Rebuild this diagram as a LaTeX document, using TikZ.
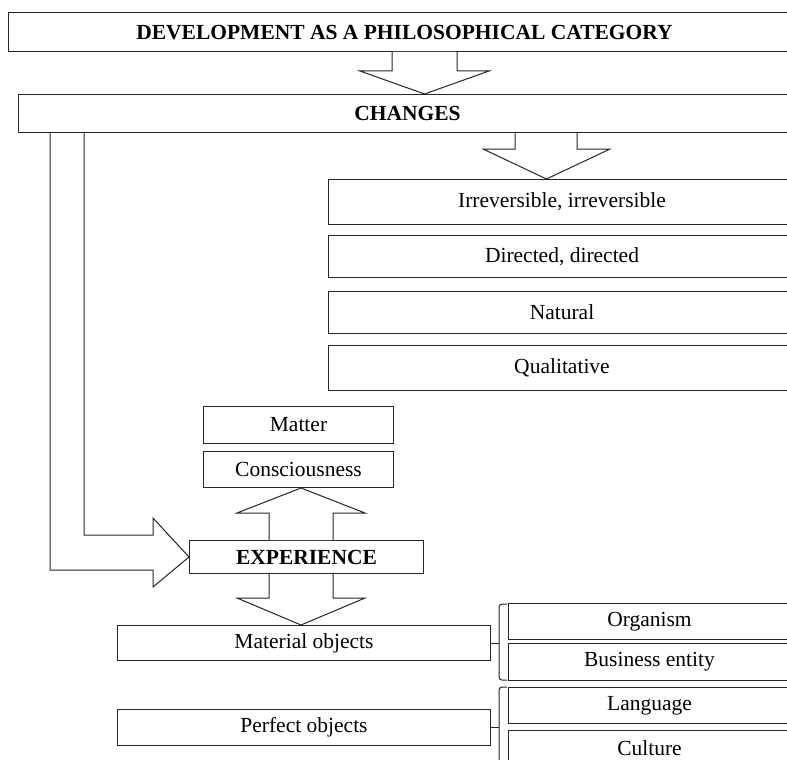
\documentclass[tikz,border=0pt]{standalone}
\usepackage{fontspec}
\setmainfont{Liberation Serif}
\usetikzlibrary{calc}
\begin{document}
\begin{tikzpicture}[x=1pt,y=-1pt,
  every node/.style={font=\fontsize{21.5}{25}\selectfont},
  box/.style={draw=black!85, line width=1pt, fill=white, inner sep=0pt, anchor=north west},
  barrow/.style={draw=black!85, line width=1pt, line join=miter, fill=white},
  brace/.style={draw=black!85, line width=1pt, rounded corners=3pt}]
  % page area
  \fill[white] (0,0) rectangle (787,760);
  \clip (0,0) rectangle (787,760);

  % main chain
  \node[box, minimum width=792pt, minimum height=38.5pt] (dev) at (8,12.5)
    {\bfseries DEVELOPMENT AS A PHILOSOPHICAL CATEGORY};
  \node[box, minimum width=778pt, minimum height=38pt] (chg) at (18,94)
    {\bfseries CHANGES};

  % properties of change
  \node[box, minimum width=467pt, minimum height=45pt] (irr) at (328,179) {Irreversible, irreversible};
  \node[box, minimum width=467pt, minimum height=42pt] (dir) at (328,235) {Directed, directed};
  \node[box, minimum width=467pt, minimum height=42pt] (nat) at (328,291) {Natural};
  \node[box, minimum width=467pt, minimum height=45pt] (qual) at (328,345) {Qualitative};

  % experience and its poles
  \node[box, minimum width=190pt, minimum height=37pt] (mat) at (203,406) {Matter};
  \node[box, minimum width=190pt, minimum height=36pt] (con) at (203,451) {Consciousness};
  \node[box, minimum width=234pt, minimum height=33pt] (exp) at (189,540) {\bfseries EXPERIENCE};

  % objects
  \node[box, minimum width=373pt, minimum height=35pt] (mob) at (117,625) {Material objects};
  \node[box, minimum width=373pt, minimum height=36pt] (pob) at (117,709) {Perfect objects};
  \node[box, minimum width=282pt, minimum height=36pt] (org) at (508,603) {Organism};
  \node[box, minimum width=282pt, minimum height=37pt] (bus) at (508,643) {Business entity};
  \node[box, minimum width=282pt, minimum height=36pt] (lang) at (508,687) {Language};
  \node[box, minimum width=282pt, minimum height=36pt] (cult) at (508,730) {Culture};

  % block arrow: development -> changes
  \draw[barrow] (392,0 |- dev.south) -- (392,71) -- (360,71) -- (424.5,0 |- chg.north)
    -- (489,71) -- (457,71) -- (457,0 |- dev.south);
  % block arrow: changes -> properties
  \draw[barrow] (515,0 |- chg.south) -- (515,149) -- (483,149) -- (546.5,0 |- irr.north)
    -- (610,149) -- (577,149) -- (577,0 |- chg.south);
  % bent block arrow: changes -> experience
  \draw[barrow] (50,0 |- chg.south) -- (50,570) -- (153,570) -- (153,587) -- (exp.west)
    -- (153,518) -- (153,535) -- (84,535) -- (84,0 |- chg.south);
  % block arrow: experience -> consciousness
  \draw[barrow] (269,0 |- exp.north) -- (269,513) -- (237,513) -- (301,0 |- con.south)
    -- (365,513) -- (333,513) -- (333,0 |- exp.north);
  % block arrow: experience -> material objects
  \draw[barrow] (269,0 |- exp.south) -- (269,598) -- (237,598) -- (301,0 |- mob.north)
    -- (365,598) -- (333,598) -- (333,0 |- exp.south);

  % brackets grouping the object kinds
  \draw[brace] (507,604) -- (499,604) -- (499,680) -- (507,680);
  \draw[draw=black!85, line width=1pt] (mob.east) -- (mob.east -| 499,0);
  \draw[brace] (507,687) -- (499,687) -- (499,790) -- (507,790);
  \draw[draw=black!85, line width=1pt] (pob.east) -- (pob.east -| 499,0);
\end{tikzpicture}
\end{document}
